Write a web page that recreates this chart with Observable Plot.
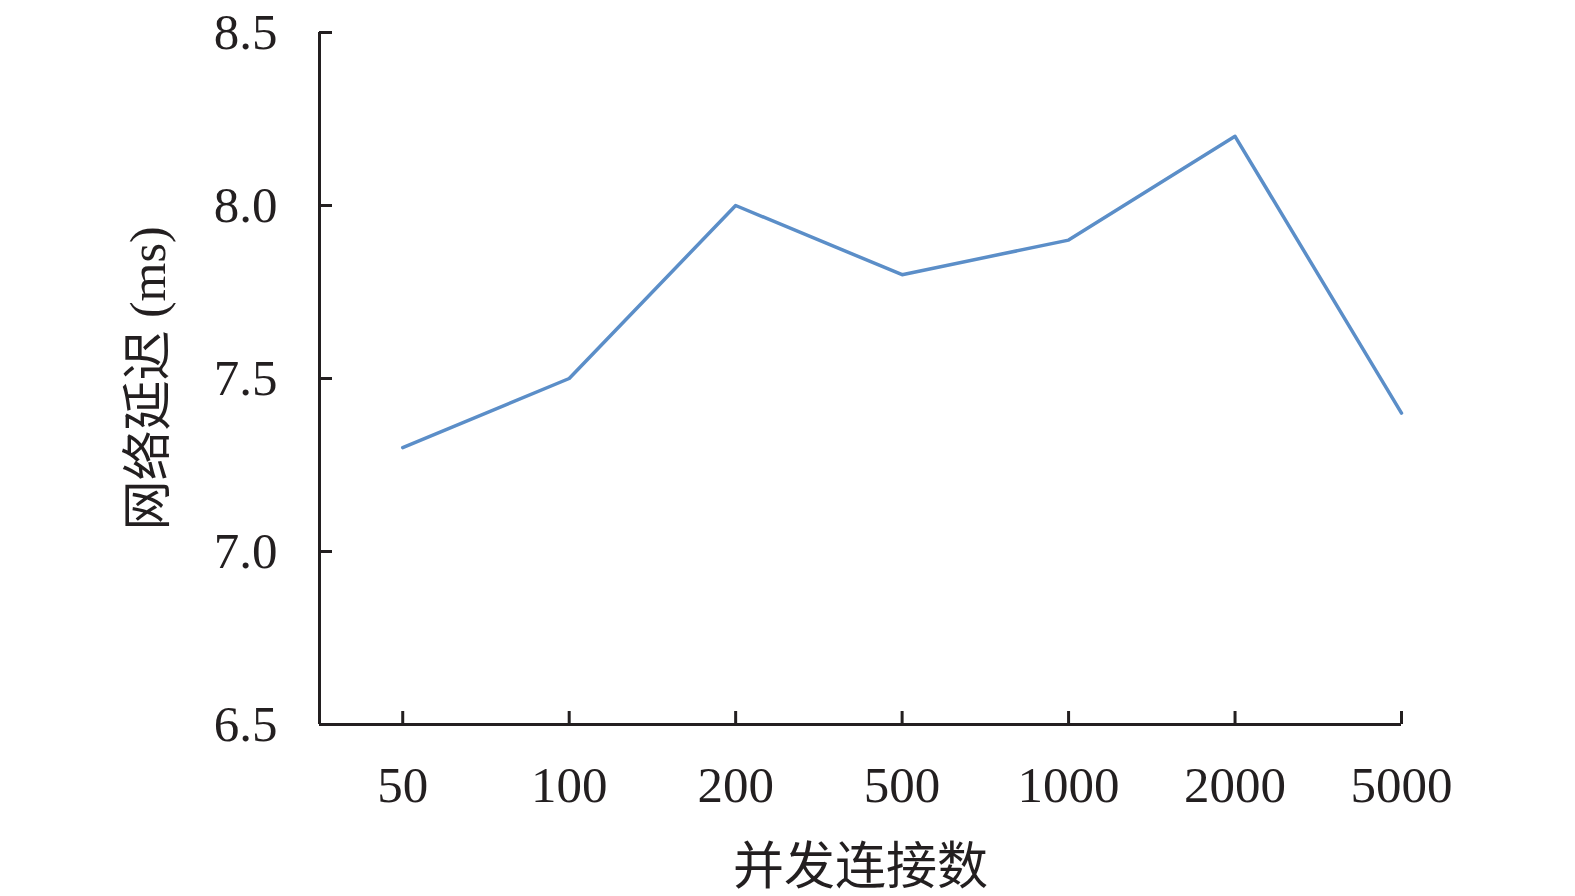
<!DOCTYPE html>
<html>
<head>
<meta charset="utf-8">
<script src="https://cdn.jsdelivr.net/npm/d3@7"></script>
<script src="https://cdn.jsdelivr.net/npm/@observablehq/plot@0.6"></script>
<style>
  body { margin: 0; background: #fff; }
  #chart svg { display: block; overflow: visible; }
</style>
</head>
<body>
<div id="chart"></div>
<script>
// concurrent connections (categories) and measured latency in ms
const connections = ["50", "100", "200", "500", "1000", "2000", "5000"];
const latency = [7.3, 7.5, 8.0, 7.8, 7.9, 8.2, 7.4];
const yTicks = [6.5, 7.0, 7.5, 8.0, 8.5];
const xLabel = "并发连接数";
const yLabel = "网络延迟 (ms)";

const ink = "#231f20";
const font = "'Liberation Serif', 'Times New Roman', 'Noto Sans CJK SC', serif";

const plot = Plot.plot({
  width: 1575,
  height: 896,
  marginLeft: 319,
  marginRight: 174,
  marginTop: 32,
  marginBottom: 172,
  style: { fontFamily: font, fontSize: "51px", color: ink, background: "#fff" },
  x: { type: "linear", domain: [-0.5, connections.length - 1] },
  y: { domain: [6.5, 8.5] },
  marks: [
    Plot.axisX(d3.range(connections.length), {
      tickFormat: (i) => connections[i],
      tickSize: -13,
      tickPadding: 54,
      strokeWidth: 3,
      fontSize: 51,
      label: null,
    }),
    Plot.axisY(yTicks, {
      tickFormat: d3.format(".1f"),
      tickSize: -13,
      tickPadding: 55,
      strokeWidth: 3,
      fontSize: 51,
      label: null,
    }),
    Plot.ruleX([-0.5], { stroke: ink, strokeWidth: 3 }),
    Plot.ruleY([6.5], { stroke: ink, strokeWidth: 3 }),
    Plot.line(latency, {
      x: (d, i) => i,
      y: (d) => d,
      stroke: "#5b8ec8",
      strokeWidth: 3.5,
    }),
    Plot.text([xLabel], {
      frameAnchor: "bottom",
      textAnchor: "middle",
      text: (d) => d,
      dy: 143,
      lineAnchor: "middle",
      fontSize: 51,
      fill: ink,
    }),
    Plot.text([yLabel], {
      frameAnchor: "left",
      textAnchor: "middle",
      text: (d) => d,
      rotate: -90,
      dx: -171,
      fontSize: 50,
      fill: ink,
    }),
  ],
});

document.getElementById("chart").appendChild(plot);
</script>
</body>
</html>
